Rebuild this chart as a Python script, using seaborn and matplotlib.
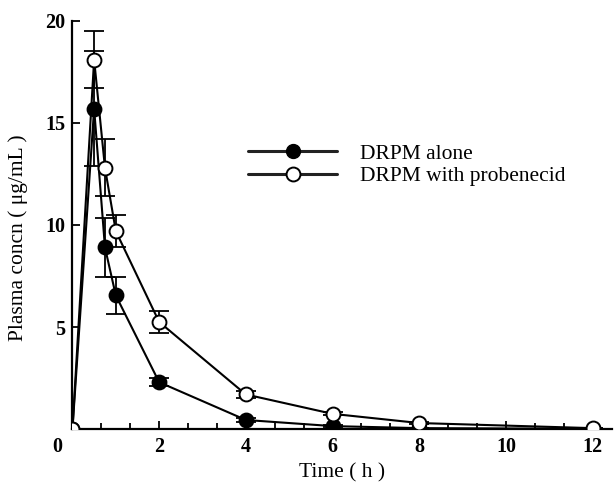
import matplotlib
matplotlib.use("Agg")
import matplotlib.pyplot as plt
import matplotlib.transforms as mtransforms
import seaborn as sns
import pandas as pd
from matplotlib.ticker import MultipleLocator
from matplotlib.lines import Line2D

time_h = [0, 0.5, 0.75, 1, 2, 4, 6, 8, 12]
alone = [0, 15.7, 8.9, 6.55, 2.3, 0.45, 0.15, 0.05, 0.02]
alone_sd = [0, 2.8, 1.45, 0.9, 0.2, 0.1, 0.05, 0.0, 0.0]
probe = [0, 18.1, 12.8, 9.7, 5.25, 1.7, 0.75, 0.3, 0.05]
probe_sd = [0, 1.4, 1.4, 0.8, 0.55, 0.15, 0.08, 0.05, 0.0]
series_names = ["DRPM alone", "DRPM with probenecid"]
x_ticks = [0, 2, 4, 6, 8, 10, 12]
y_ticks = [5, 10, 15, 20]

df = pd.DataFrame({
    "time": time_h * 2,
    "conc": alone + probe,
    "group": [series_names[0]] * len(time_h) + [series_names[1]] * len(time_h),
})

sns.set_theme(style="ticks")
plt.rcParams['font.family'] = ['Liberation Serif', 'DejaVu Serif']
plt.rcParams['text.color'] = 'black'
plt.rcParams['axes.labelcolor'] = 'black'

fig = plt.figure(figsize=(6.14, 4.95), dpi=100)
ax = fig.add_axes([0.118, 0.133, 0.879, 0.825])

for name, sd in [(series_names[0], alone_sd), (series_names[1], probe_sd)]:
    sub = df[df.group == name]
    ax.errorbar(sub.time, sub.conc, yerr=sd, fmt="none", ecolor="black",
                elinewidth=1.3, capsize=7, capthick=1.3, zorder=2)

sns.lineplot(data=df, x="time", y="conc", hue="group", style="group",
             palette=["black", "black"], markers=["o", "o"], dashes=False,
             linewidth=1.5, markersize=10, markeredgecolor="black",
             markeredgewidth=1.4, ax=ax, legend=False, zorder=3)
lines = ax.get_lines()
lines[-1].set_markerfacecolor("white")
lines[-2].set_markerfacecolor("black")

handles = [Line2D([], [], color="#222222", lw=2.2, marker="o", markersize=10,
                  markerfacecolor="black", markeredgecolor="black"),
           Line2D([], [], color="#222222", lw=2.2, marker="o", markersize=10,
                  markerfacecolor="white", markeredgecolor="black", markeredgewidth=1.4)]
ax.legend(handles, series_names, loc="upper left", bbox_to_anchor=(0.31, 0.72),
          frameon=False, handlelength=4.1, handletextpad=1.1, labelspacing=0.1,
          fontsize=15.5, borderaxespad=0)

ax.set_xlim(0, 12.45)
ax.set_ylim(0, 20)
ax.set_xticks(x_ticks)
ax.set_xticklabels([str(v) for v in x_ticks])
ax.set_yticks(y_ticks)
ax.set_yticklabels([str(v) for v in y_ticks])
ax.xaxis.set_minor_locator(MultipleLocator(2/3))
ax.tick_params(which="both", direction="in", width=1.3, colors="black")
ax.tick_params(which="major", length=6, labelsize=14.5)
ax.tick_params(which="minor", length=4)
ax.tick_params(axis="x", pad=6)
ax.tick_params(axis="y", pad=5)
for lab in ax.get_xticklabels() + ax.get_yticklabels():
    lab.set_fontweight("bold")
first = ax.get_xticklabels()[0]
first.set_transform(first.get_transform() + mtransforms.ScaledTranslation(-15/100, 0, fig.dpi_scale_trans))

ax.set_xlabel("Time ( h )", fontsize=15.5, labelpad=4)
ax.set_ylabel("Plasma concn ( μg/mL )", fontsize=15.5)
ax.yaxis.set_label_coords(-0.083, 0.47)
for s in ["top", "right"]:
    ax.spines[s].set_visible(False)
for s in ["left", "bottom"]:
    ax.spines[s].set_linewidth(1.6)
    ax.spines[s].set_color("black")

fig.savefig("out.png", dpi=100)
